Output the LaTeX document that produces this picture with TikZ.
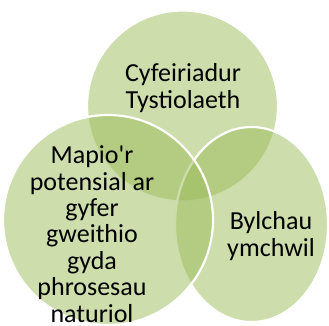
\documentclass[tikz,border=0pt]{standalone}
\usepackage{fontspec}
\setmainfont{Carlito}
\usetikzlibrary{shapes.geometric}
\definecolor{venngreen}{RGB}{155,187,89}

\begin{document}
\begin{tikzpicture}[x=1pt,y=-1pt,
  venn/.style={draw=white,line width=2.2pt,fill=venngreen,fill opacity=0.5,inner sep=0pt},
  vtxt/.style={align=center,font=\fontsize{26}{26.4}\selectfont,inner sep=0pt,text=black}]
\useasboundingbox (0,0) rectangle (329,325);
% circles, back to front
\node[venn,circle,minimum size=191pt] (cev) at (182.5,106) {};
\node[venn,ellipse,minimum width=153pt,minimum height=195pt] (cgap) at (251.5,224.5) {};
\node[venn,circle,minimum size=210pt] (cmap) at (108,220) {};
% labels (base = last line)
\node[vtxt,anchor=base] (tev) at (183,108) {Cyfeiriadur\\Tystiolaeth};
\node[vtxt,anchor=base] (tgap) at (271,256) {Bylchau\\ymchwil};
\node[vtxt,anchor=base] (tmap) at (92,322) {Mapio\textquotesingle r\\potensial ar\\gyfer\\gweithio\\gyda\\phrosesau\\naturiol};
\end{tikzpicture}
\end{document}
